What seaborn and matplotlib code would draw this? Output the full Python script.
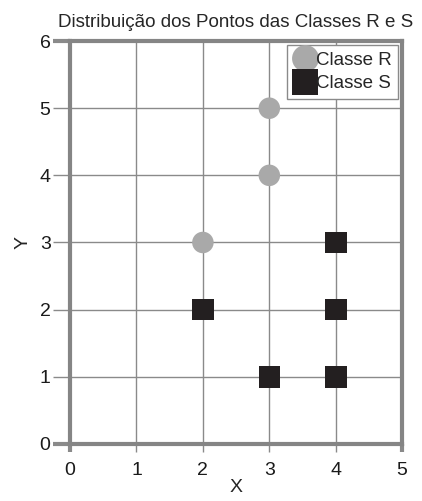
import pandas as pd
import seaborn as sns
import matplotlib.pyplot as plt

# pontos das classes
classe_r_x = [2, 3, 3]
classe_r_y = [3, 4, 5]
classe_s_x = [2, 3, 4, 4, 4]
classe_s_y = [2, 1, 1, 2, 3]

df = pd.DataFrame({
    "x": classe_r_x + classe_s_x,
    "y": classe_r_y + classe_s_y,
    "classe": ["Classe R"] * len(classe_r_x) + ["Classe S"] * len(classe_s_x),
})

sns.set_style("white")
plt.rcParams["font.family"] = ["Liberation Sans", "DejaVu Sans"]

cinza = "#858585"

fig = plt.figure(figsize=(4.22, 5.01), dpi=100)
ax = fig.add_axes([0.166, 0.114, 0.787, 0.804])

ax.grid(True, color="#8a8a8a", linewidth=1.0)
ax.set_axisbelow(True)

sns.scatterplot(
    data=df, x="x", y="y", hue="classe", style="classe",
    palette={"Classe R": "#a9a9a9", "Classe S": "#231f20"},
    markers={"Classe R": "o", "Classe S": "s"},
    s=240, linewidth=0, ax=ax, zorder=3,
)

ax.set_xlim(0, 5)
ax.set_ylim(0, 6)
ax.set_xticks(range(0, 6))
ax.set_yticks(range(0, 7))
ax.tick_params(axis="both", labelsize=14, width=1, color="#8a8a8a",
               left=True, bottom=True, labelcolor="#1a1a1a")
ax.tick_params(axis="x", length=6, pad=7)
ax.tick_params(axis="y", length=12, pad=2)

# ticks das extremidades mais grossos, como a moldura
for t in [ax.xaxis.get_major_ticks()[0], ax.xaxis.get_major_ticks()[-1],
          ax.yaxis.get_major_ticks()[0], ax.yaxis.get_major_ticks()[-1]]:
    t.tick1line.set_markeredgewidth(3)
    t.tick1line.set_color(cinza)

for sp in ax.spines.values():
    sp.set_color(cinza)
    sp.set_linewidth(3)

ax.set_xlabel("X", fontsize=14, labelpad=0)
ax.set_ylabel("Y", fontsize=14, labelpad=6)
ax.set_title("Distribuição dos Pontos das Classes R e S", fontsize=13.5, pad=10)

leg = ax.legend(loc="upper right", fontsize=13.5, markerscale=1.25, handletextpad=0.0,
                borderpad=0.35, labelspacing=0.35, handlelength=1.2,
                fancybox=False, framealpha=1, edgecolor="#8a8a8a",
                borderaxespad=0.2)
leg.get_frame().set_linewidth(1)

plt.savefig("out.png", dpi=100)
